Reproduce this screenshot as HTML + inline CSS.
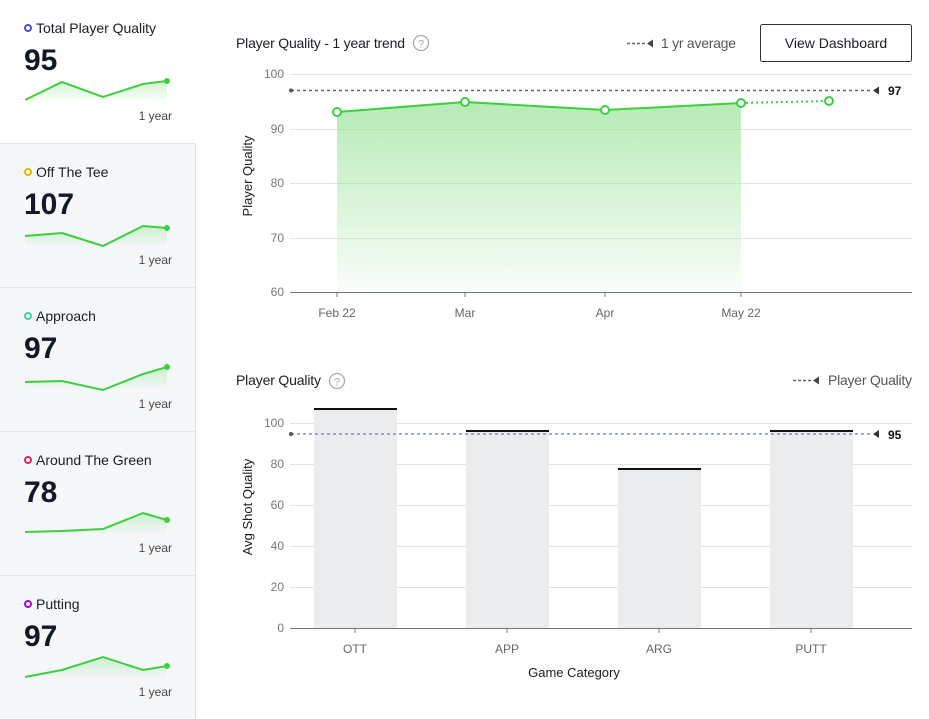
<!DOCTYPE html>
<html><head><meta charset="utf-8"><style>
body{margin:0;width:929px;height:719px;background:#fff;font-family:"Liberation Sans",sans-serif;overflow:hidden;position:relative}
svg{position:absolute;left:0;top:0}
</style></head><body>
<svg width="929" height="719" viewBox="0 0 929 719" font-family="Liberation Sans, sans-serif">
<defs>
<linearGradient id="sg" x1="0" y1="0" x2="0" y2="1"><stop offset="0" stop-color="#3ecf3e" stop-opacity="0.22"/><stop offset="1" stop-color="#3ecf3e" stop-opacity="0"/></linearGradient>
<linearGradient id="ag" x1="0" y1="0" x2="0" y2="1"><stop offset="0" stop-color="#8fe08f" stop-opacity="0.65"/><stop offset="1" stop-color="#8fe08f" stop-opacity="0.05"/></linearGradient>
</defs>
<rect x="0" y="144" width="195" height="575" fill="#f6f7f9"/>
<line x1="195.5" y1="143" x2="195.5" y2="719" stroke="#e2e4e8"/>
<line x1="0" y1="143.5" x2="196" y2="143.5" stroke="#e2e4e8"/>
<line x1="0" y1="287.5" x2="196" y2="287.5" stroke="#e2e4e8"/>
<line x1="0" y1="431.5" x2="196" y2="431.5" stroke="#e2e4e8"/>
<line x1="0" y1="575.5" x2="196" y2="575.5" stroke="#e2e4e8"/>
<g font-size="14" fill="#1a1d24">
<g transform="translate(0,0)">
<circle cx="28" cy="28" r="3" fill="none" stroke="#4a4fd6" stroke-width="2"/>
<text x="36" y="33" textLength="120">Total Player Quality</text>
<text x="24" y="70" font-size="30" font-weight="bold" fill="#111827">95</text>
<path d="M25,100 L62,82 L103,97 L143,84 L167,81 L167,104 L25,104Z" fill="url(#sg)"/>
<polyline points="25,100 62,82 103,97 143,84 167,81" fill="none" stroke="#3ecf3e" stroke-width="2"/>
<circle cx="167" cy="81" r="3" fill="#3ecf3e"/>
<text x="172" y="120" font-size="12" fill="#444" text-anchor="end">1 year</text>
</g>
<g transform="translate(0,144)">
<circle cx="28" cy="28" r="3" fill="none" stroke="#e5b800" stroke-width="2"/>
<text x="36" y="33">Off The Tee</text>
<text x="24" y="70" font-size="30" font-weight="bold" fill="#111827">107</text>
<path d="M25,92 L62,89 L103,102 L143,82 L167,84 L167,104 L25,104Z" fill="url(#sg)"/>
<polyline points="25,92 62,89 103,102 143,82 167,84" fill="none" stroke="#3ecf3e" stroke-width="2"/>
<circle cx="167" cy="84" r="3" fill="#3ecf3e"/>
<text x="172" y="120" font-size="12" fill="#444" text-anchor="end">1 year</text>
</g>
<g transform="translate(0,288)">
<circle cx="28" cy="28" r="3" fill="none" stroke="#3fd3a6" stroke-width="2"/>
<text x="36" y="33">Approach</text>
<text x="24" y="70" font-size="30" font-weight="bold" fill="#111827">97</text>
<path d="M25,94 L62,93 L103,102 L143,86 L167,79 L167,104 L25,104Z" fill="url(#sg)"/>
<polyline points="25,94 62,93 103,102 143,86 167,79" fill="none" stroke="#3ecf3e" stroke-width="2"/>
<circle cx="167" cy="79" r="3" fill="#3ecf3e"/>
<text x="172" y="120" font-size="12" fill="#444" text-anchor="end">1 year</text>
</g>
<g transform="translate(0,432)">
<circle cx="28" cy="28" r="3" fill="none" stroke="#e0245e" stroke-width="2"/>
<text x="36" y="33">Around The Green</text>
<text x="24" y="70" font-size="30" font-weight="bold" fill="#111827">78</text>
<path d="M25,100 L62,99 L103,97 L143,81 L167,88 L167,104 L25,104Z" fill="url(#sg)"/>
<polyline points="25,100 62,99 103,97 143,81 167,88" fill="none" stroke="#3ecf3e" stroke-width="2"/>
<circle cx="167" cy="88" r="3" fill="#3ecf3e"/>
<text x="172" y="120" font-size="12" fill="#444" text-anchor="end">1 year</text>
</g>
<g transform="translate(0,576)">
<circle cx="28" cy="28" r="3" fill="none" stroke="#a00fd0" stroke-width="2"/>
<text x="36" y="33">Putting</text>
<text x="24" y="70" font-size="30" font-weight="bold" fill="#111827">97</text>
<path d="M25,101 L62,94 L103,81 L143,94 L167,90 L167,104 L25,104Z" fill="url(#sg)"/>
<polyline points="25,101 62,94 103,81 143,94 167,90" fill="none" stroke="#3ecf3e" stroke-width="2"/>
<circle cx="167" cy="90" r="3" fill="#3ecf3e"/>
<text x="172" y="120" font-size="12" fill="#444" text-anchor="end">1 year</text>
</g>
</g>

<text x="236" y="48" font-size="14" fill="#1a1d24" textLength="169">Player Quality - 1 year trend</text>
<circle cx="421" cy="43" r="7.5" fill="none" stroke="#aaa" stroke-width="1.3"/>
<text x="421" y="47.5" font-size="11" fill="#aaa" text-anchor="middle">?</text>
<line x1="627" y1="43.5" x2="647" y2="43.5" stroke="#666" stroke-width="1.5" stroke-dasharray="3,2"/>
<path d="M647,43.5 L653,39.5 L653,47.5Z" fill="#444"/>
<text x="661" y="48" font-size="14" fill="#555" textLength="75">1 yr average</text>
<rect x="760.5" y="24.5" width="151" height="37" fill="#fff" stroke="#333" stroke-width="1" rx="2"/>
<text x="836" y="48" font-size="14" fill="#1a1d24" text-anchor="middle">View Dashboard</text>

<g stroke="#e3e3e3"><line x1="290" y1="74.5" x2="912" y2="74.5"/><line x1="290" y1="129.5" x2="912" y2="129.5"/><line x1="290" y1="183.5" x2="912" y2="183.5"/><line x1="290" y1="238.5" x2="912" y2="238.5"/></g>
<line x1="290" y1="292.5" x2="912" y2="292.5" stroke="#777"/>
<g font-size="12" fill="#777" text-anchor="end"><text x="284" y="78">100</text><text x="284" y="133">90</text><text x="284" y="187">80</text><text x="284" y="242">70</text><text x="284" y="296">60</text></g>
<g stroke="#777"><line x1="337" y1="292" x2="337" y2="297"/><line x1="465" y1="292" x2="465" y2="297"/><line x1="605" y1="292" x2="605" y2="297"/><line x1="741" y1="292" x2="741" y2="297"/></g>
<g font-size="12" fill="#666" text-anchor="middle"><text x="337" y="317">Feb 22</text><text x="465" y="317">Mar</text><text x="605" y="317">Apr</text><text x="741" y="317">May 22</text></g>
<text transform="translate(252,176) rotate(-90)" font-size="13" fill="#1a1d24" text-anchor="middle">Player Quality</text>
<path d="M337,112 L465,102 L605,110 L741,103 L741,292 L337,292Z" fill="url(#ag)"/>
<polyline points="337,112 465,102 605,110 741,103" fill="none" stroke="#3ecf3e" stroke-width="2"/>
<line x1="741" y1="103" x2="829" y2="101" stroke="#3ecf3e" stroke-width="2" stroke-dasharray="2,3"/>
<line x1="291" y1="90.5" x2="873" y2="90.5" stroke="#666" stroke-width="1.5" stroke-dasharray="3,3"/>
<circle cx="291" cy="90.5" r="2" fill="#555"/>
<path d="M873,90.5 L879,86.5 L879,94.5Z" fill="#333"/>
<text x="888" y="95" font-size="12" font-weight="bold" fill="#111">97</text>
<g fill="#fff" stroke="#3ecf3e" stroke-width="2"><circle cx="337" cy="112" r="4"/><circle cx="465" cy="102" r="4"/><circle cx="605" cy="110" r="4"/><circle cx="741" cy="103" r="4"/><circle cx="829" cy="101" r="4"/></g>

<text x="236" y="385" font-size="14" fill="#1a1d24" textLength="85">Player Quality</text>
<circle cx="337" cy="381" r="7.5" fill="none" stroke="#aaa" stroke-width="1.3"/>
<text x="337" y="385.5" font-size="11" fill="#aaa" text-anchor="middle">?</text>
<line x1="793" y1="380.5" x2="813" y2="380.5" stroke="#666" stroke-width="1.5" stroke-dasharray="3,2"/>
<path d="M813,380.5 L819,376.5 L819,384.5Z" fill="#444"/>
<text x="828" y="385" font-size="14" fill="#555" textLength="84">Player Quality</text>
<g stroke="#e3e3e3"><line x1="290" y1="423.5" x2="912" y2="423.5"/><line x1="290" y1="464.5" x2="912" y2="464.5"/><line x1="290" y1="505.5" x2="912" y2="505.5"/><line x1="290" y1="546.5" x2="912" y2="546.5"/><line x1="290" y1="587.5" x2="912" y2="587.5"/></g>
<g font-size="12" fill="#777" text-anchor="end"><text x="284" y="427">100</text><text x="284" y="468">80</text><text x="284" y="509">60</text><text x="284" y="550">40</text><text x="284" y="591">20</text><text x="284" y="632">0</text></g>
<g fill="#ebecee"><rect x="314" y="409" width="83" height="219"/><rect x="466" y="431" width="83" height="197"/><rect x="618" y="469" width="83" height="159"/><rect x="770" y="431" width="83" height="197"/></g>
<g fill="#111"><rect x="314" y="408" width="83" height="2"/><rect x="466" y="430" width="83" height="2"/><rect x="618" y="468" width="83" height="2"/><rect x="770" y="430" width="83" height="2"/></g>
<line x1="290" y1="628.5" x2="912" y2="628.5" stroke="#777"/>
<g stroke="#777"><line x1="355" y1="628" x2="355" y2="633"/><line x1="507" y1="628" x2="507" y2="633"/><line x1="659" y1="628" x2="659" y2="633"/><line x1="811" y1="628" x2="811" y2="633"/></g>
<g font-size="12" fill="#666" text-anchor="middle"><text x="355" y="653">OTT</text><text x="507" y="653">APP</text><text x="659" y="653">ARG</text><text x="811" y="653">PUTT</text></g>
<text x="574" y="677" font-size="13" fill="#1a1d24" text-anchor="middle">Game Category</text>
<text transform="translate(252,507) rotate(-90)" font-size="13" fill="#1a1d24" text-anchor="middle">Avg Shot Quality</text>
<line x1="291" y1="434" x2="873" y2="434" stroke="#7b8ddb" stroke-width="1.5" stroke-dasharray="3,3"/>
<circle cx="291" cy="434" r="2" fill="#555"/>
<path d="M873,434 L879,430 L879,438Z" fill="#333"/>
<text x="888" y="439" font-size="12" font-weight="bold" fill="#111">95</text>
</svg>
</body></html>
